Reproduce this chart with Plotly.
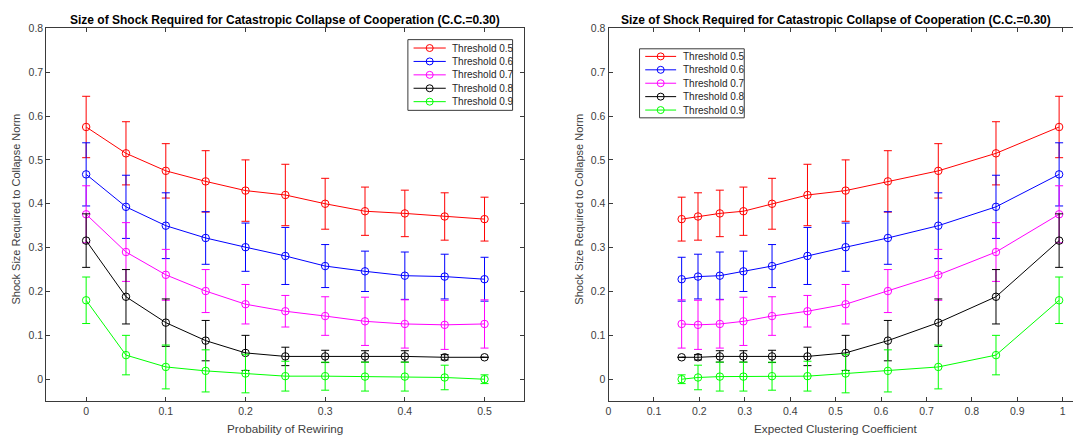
import plotly.graph_objects as go

# page body has a default 8px margin, so the figure starts at (8, 8) in the window
OFF = 8
W, H = 1081 - OFF, 441 - OFF

# ---------------- data ----------------
rewiring = [0.0, 0.05, 0.10, 0.15, 0.20, 0.25, 0.30, 0.35, 0.40, 0.45, 0.50]
clustering = [0.992, 0.853, 0.726, 0.615, 0.522, 0.438, 0.360, 0.297, 0.245, 0.197, 0.161]

series_names = ["Threshold 0.5", "Threshold 0.6", "Threshold 0.7", "Threshold 0.8", "Threshold 0.9"]
series_colors = ["#ff0000", "#0000ff", "#ff00ff", "#000000", "#00ff00"]

mean_t05 = [0.575, 0.515, 0.475, 0.451, 0.430, 0.420, 0.400, 0.383, 0.378, 0.371, 0.365]
err_t05 = [0.070, 0.072, 0.062, 0.070, 0.070, 0.070, 0.058, 0.055, 0.053, 0.054, 0.050]
mean_t06 = [0.467, 0.393, 0.350, 0.322, 0.301, 0.281, 0.258, 0.246, 0.236, 0.234, 0.228]
err_t06 = [0.072, 0.072, 0.075, 0.060, 0.055, 0.065, 0.049, 0.046, 0.054, 0.051, 0.050]
mean_t07 = [0.376, 0.290, 0.238, 0.201, 0.171, 0.155, 0.144, 0.132, 0.126, 0.124, 0.126]
err_t07 = [0.065, 0.067, 0.058, 0.049, 0.045, 0.036, 0.044, 0.055, 0.055, 0.056, 0.055]
mean_t08 = [0.316, 0.188, 0.129, 0.088, 0.060, 0.052, 0.052, 0.052, 0.052, 0.050, 0.050]
err_t08 = [0.061, 0.062, 0.054, 0.046, 0.040, 0.021, 0.014, 0.013, 0.013, 0.006, 0.000]
mean_t09 = [0.180, 0.055, 0.028, 0.019, 0.013, 0.007, 0.007, 0.006, 0.006, 0.004, 0.000]
err_t09 = [0.053, 0.045, 0.050, 0.048, 0.044, 0.034, 0.032, 0.033, 0.033, 0.028, 0.010]

means = [mean_t05, mean_t06, mean_t07, mean_t08, mean_t09]
errs = [err_t05, err_t06, err_t07, err_t08, err_t09]

title_text = "Size of Shock Required for Catastropic Collapse of Cooperation (C.C.=0.30)"
ylabel = "Shock Size Required to Collapse Norm"
xlabel_left = "Probability of Rewiring"
xlabel_right = "Expected Clustering Coefficient"

left_xticks = [0, 0.1, 0.2, 0.3, 0.4, 0.5]
right_xticks = [0, 0.1, 0.2, 0.3, 0.4, 0.5, 0.6, 0.7, 0.8, 0.9, 1]
yticks = [0, 0.1, 0.2, 0.3, 0.4, 0.5, 0.6, 0.7, 0.8]

# ---------------- layout helpers ----------------
FONT = "Liberation Sans, Arial, sans-serif"
AXC = "#3a3a3a"
TXC = "#404040"


def px(x):
    # x given in window pixels
    return (x - OFF) / W


def py(y):
    # y given in window pixels
    return 1 - (y - OFF) / H


L_X0, L_X1 = 43.4, 522.8
R_X0, R_X1 = 607.2, 1081.0
Y_TOP, Y_BOT = 22.5, 400.6

fig = go.Figure()

for i in range(5):
    for xs, xa, ya in [(rewiring, "x", "y"), (clustering, "x2", "y2")]:
        fig.add_trace(go.Scatter(
            x=xs, y=means[i], xaxis=xa, yaxis=ya,
            mode="lines+markers",
            name=series_names[i], showlegend=False,
            line=dict(color=series_colors[i], width=1),
            marker=dict(symbol="circle-open", size=7.5, color=series_colors[i],
                        line=dict(width=1, color=series_colors[i])),
            error_y=dict(type="data", array=errs[i], visible=True,
                         color=series_colors[i], thickness=1, width=4),
        ))

axis_common = dict(
    showgrid=False, zeroline=False, showline=True, linecolor=AXC, linewidth=1,
    ticks="inside", ticklen=4, tickcolor=AXC, tickwidth=1,
    tickfont=dict(family=FONT, size=10.5, color=TXC),
)

fig.update_layout(
    width=W, height=H,
    margin=dict(l=0, r=0, t=0, b=0),
    paper_bgcolor="white", plot_bgcolor="white",
    showlegend=False,
    xaxis=dict(domain=[px(L_X0), px(L_X1)], range=[-0.05, 0.55], tickvals=left_xticks,
               anchor="y", mirror="ticks", **axis_common),
    yaxis=dict(domain=[py(Y_BOT), py(Y_TOP)], range=[-0.05, 0.8], tickvals=yticks,
               anchor="x", mirror="ticks", **axis_common),
    xaxis2=dict(domain=[px(R_X0), 1.0],
                range=[0, (R_X1 - R_X0) / 455.5], tickvals=right_xticks,
                anchor="y2", mirror="ticks", **axis_common),
    yaxis2=dict(domain=[py(Y_BOT), py(Y_TOP)], range=[-0.05, 0.8], tickvals=yticks,
                anchor="x2", mirror=False, **axis_common),
)

annotations = []
shapes = []

# titles and axis labels
for cx, xlab, ylx in [((L_X0 + L_X1) / 2, xlabel_left, 13.3), ((R_X0 + 1062.7) / 2, xlabel_right, 578.0)]:
    annotations.append(dict(x=px(cx), y=py(14.5), xref="paper", yref="paper",
                            text="<b>" + title_text + "</b>", showarrow=False,
                            xanchor="center", yanchor="middle",
                            font=dict(family=FONT, size=12, color="black")))
    annotations.append(dict(x=px(cx), y=py(428.5), xref="paper", yref="paper",
                            text=xlab, showarrow=False, xanchor="center", yanchor="middle",
                            font=dict(family=FONT, size=11.7, color=TXC)))
    annotations.append(dict(x=px(ylx), y=py(206.0), xref="paper", yref="paper",
                            text=ylabel, showarrow=False, textangle=-90,
                            xanchor="center", yanchor="middle",
                            font=dict(family=FONT, size=11, color=TXC)))

# manual legends (compact, MATLAB style)
legend_specs = [
    dict(box=(406.0, 34.0, 511.0, 105.7), row0=42.5, lx0=411.7, lx1=444.0, tx=448.3),
    dict(box=(638.3, 43.3, 743.3, 113.3), row0=51.0, lx0=644.0, lx1=675.0, tx=680.0),
]
ROW = 13.6
for spec in legend_specs:
    bx0, by0, bx1, by1 = spec["box"]
    shapes.append(dict(type="rect", xref="paper", yref="paper",
                       x0=px(bx0), x1=px(bx1), y0=py(by1), y1=py(by0),
                       line=dict(color=AXC, width=1), fillcolor="white", layer="above"))
    for i in range(5):
        yy = spec["row0"] + i * ROW
        c = series_colors[i]
        shapes.append(dict(type="line", xref="paper", yref="paper",
                           x0=px(spec["lx0"]), x1=px(spec["lx1"]), y0=py(yy), y1=py(yy),
                           line=dict(color=c, width=1), layer="above"))
        cxm = (spec["lx0"] + spec["lx1"]) / 2
        shapes.append(dict(type="circle", xref="paper", yref="paper",
                           xsizemode="pixel", ysizemode="pixel",
                           xanchor=px(cxm), yanchor=py(yy),
                           x0=-3.5, x1=3.5, y0=-3.5, y1=3.5,
                           line=dict(color=c, width=1), fillcolor="rgba(0,0,0,0)", layer="above"))
        annotations.append(dict(x=px(spec["tx"]), y=py(yy), xref="paper", yref="paper",
                                text=series_names[i], showarrow=False,
                                xanchor="left", yanchor="middle",
                                font=dict(family=FONT, size=10, color="#262626")))

fig.update_layout(annotations=annotations, shapes=shapes)

fig.write_html("out.html")
